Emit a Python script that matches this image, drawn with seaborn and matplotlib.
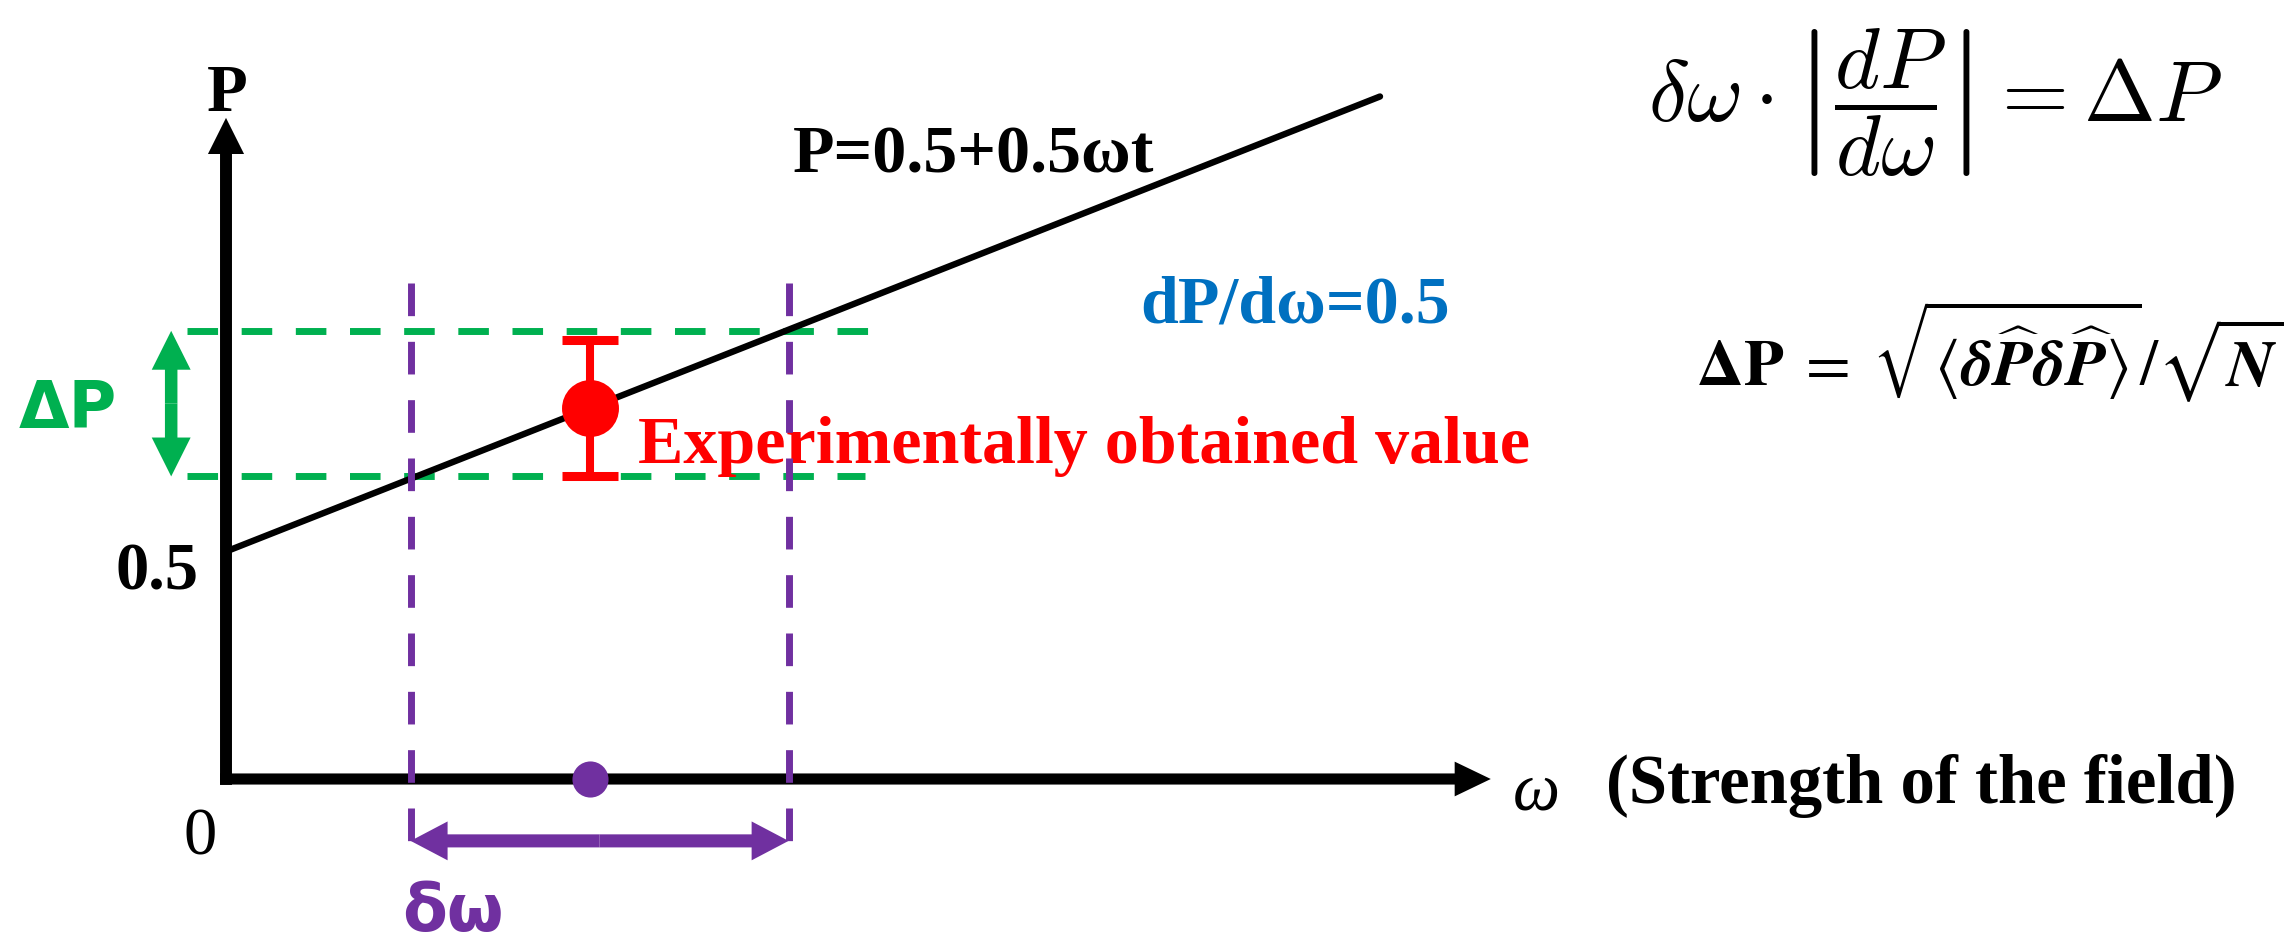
import matplotlib
matplotlib.use("Agg")
import matplotlib.pyplot as plt
import seaborn as sns

# Response line P = 0.5 + 0.5 ωt
omega_line = [0.0, 2.0]
P_line = [0.5, 1.5]

# Measured value and its uncertainty
omega_obs = [0.63]
P_obs = [0.815]
P_err = [0.15]

# Uncertainty band in P and the matching interval in ω
band_P = [0.665, 0.985]
band_omega = [0.32, 0.975]

# Axis annotations
tick_P = [0.5]
tick_labels = ["0.5"]

GREEN = "#00B050"
PURPLE = "#7030A0"
RED = "#FF0000"
BLUE = "#0070C0"

sns.set_theme(style="white")
plt.rcParams["font.family"] = ["Liberation Serif", "DejaVu Sans"]
plt.rcParams["text.color"] = "black"

W, H = 2294, 942
X0, SX = 226, 577   # pixel position of ω=0 and pixels per unit ω
Y0, SY = 779, 455   # pixel position of P=0 and pixels per unit P

fig = plt.figure(figsize=(W / 100, H / 100), dpi=100)
ax = fig.add_axes([0, 0, 1, 1])
ax.set_xlim(-X0 / SX, (W - X0) / SX)
ax.set_ylim((Y0 - H) / SY, Y0 / SY)
ax.axis("off")


def arrow(x0, y0, x1, y1, color, tail, head_w, head_l, z=3):
    ax.annotate(
        "", xy=(x1, y1), xytext=(x0, y0),
        arrowprops=dict(
            arrowstyle=f"simple,head_length={head_l},head_width={head_w},tail_width={tail}",
            color=color, lw=0, shrinkA=0, shrinkB=0, mutation_scale=1),
        zorder=z)


# Coordinate axes with arrow heads
arrow(0, -0.013, 0, 1.453, "black", 8.6, 26, 26)
arrow(-0.0104, 0, 2.192, 0, "black", 8.0, 25, 26)
ax.text(0.002, 1.468, "P", ha="center", va="baseline", fontsize=48, fontweight="bold")
ax.text(-0.045, -0.167, "0", ha="center", va="baseline", fontsize=48)
for p, lab in zip(tick_P, tick_labels):
    ax.text(-0.048, p - 0.083, lab, ha="right", va="baseline", fontsize=48, fontweight="bold")
ax.text(2.2305, -0.068, "ω", ha="left", va="baseline", fontsize=48, fontstyle="italic")
ax.text(2.392, -0.0527, "(Strength of the field)", ha="left", va="baseline",
        fontsize=49.5, fontweight="bold")

# Horizontal band limits (green) and vertical interval limits (purple)
green_ends = [1.107, 1.149]
for p, xe in zip(band_P, green_ends):
    ax.plot([-0.067, xe], [p, p], color=GREEN, lw=5, dashes=(4.4, 3.4), zorder=2)

# Response line
sns.lineplot(x=omega_line, y=P_line, color="black", linewidth=4.6, ax=ax, zorder=3)

for w in band_omega:
    ax.plot([w, w], [1.09, -0.18], color=PURPLE, lw=5, dashes=(4.7, 3.7), zorder=4)

# Measured point with error bar
ax.errorbar(omega_obs, P_obs, yerr=P_err, fmt="none", ecolor=RED, elinewidth=5.8,
            capsize=20.5, capthick=6.5, zorder=5)
sns.scatterplot(x=omega_obs, y=P_obs, s=1681, color=RED, linewidth=0, ax=ax, zorder=6)
sns.scatterplot(x=omega_obs, y=[0.0], s=676, color=PURPLE, linewidth=0, ax=ax, zorder=6)

# ΔP and δω double arrows
mid_P = sum(band_P) / 2
arrow(-0.095, mid_P, -0.095, band_P[1], GREEN, 9, 28, 28)
arrow(-0.095, mid_P, -0.095, band_P[0], GREEN, 9, 28, 28)
ax.text(-0.274, 0.771, "ΔP", ha="center", va="baseline", color=GREEN, fontsize=47,
        fontweight="bold", family="DejaVu Sans")

mid_w = sum(band_omega) / 2
arrow(mid_w, -0.136, band_omega[0], -0.136, PURPLE, 9.4, 28, 26.6)
arrow(mid_w, -0.136, band_omega[1], -0.136, PURPLE, 9.4, 28, 26.6)
ax.text(0.393, -0.335, "δω", ha="center", va="baseline", color=PURPLE, fontsize=47,
        fontweight="bold", family="DejaVu Sans")

# Labels
ax.text(1.2955, 1.332, "P=0.5+0.5ωt", ha="center", va="baseline", fontsize=49, fontweight="bold")
ax.text(1.8535, 1.003, "dP/dω=0.5", ha="center", va="baseline", fontsize=49,
        fontweight="bold", color=BLUE)
ax.text(0.714, 0.6945, "Experimentally obtained value", ha="left", va="baseline",
        fontsize=49, fontweight="bold", color=RED, zorder=3)

# Formulas
ax.text(2.4645, 1.444, r"$\delta\omega\cdot\left|\dfrac{dP}{d\omega}\right|=\Delta P$",
        math_fontfamily="cm", fontsize=62, ha="left", va="baseline")
ax.text(2.5477, 0.8637,
        r"$\mathbf{\Delta P}\;=\;\sqrt{\langle\mathbfit{\delta\widehat{P}\delta\widehat{P}}\rangle}/\sqrt{\mathbfit{N}}$",
        math_fontfamily="stix", fontsize=47, ha="left", va="baseline")

fig.savefig("out.png", dpi=100, facecolor="white")
